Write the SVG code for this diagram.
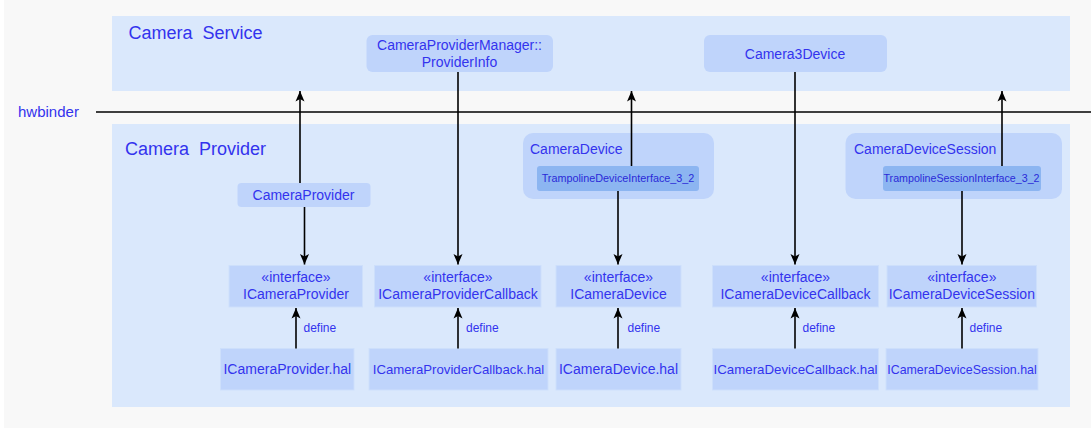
<svg xmlns="http://www.w3.org/2000/svg" width="1091" height="428" viewBox="0 0 1091 428">
<style>
text{font-family:"Liberation Sans",Arial,sans-serif;fill:#3333ee}
.t14{font-size:14px;text-anchor:middle}
.big{font-size:18px;white-space:pre}
.lane{fill:#dae8fc}
.node{fill:#bfd4fb}
.box{fill:#bfd4fb;stroke:#cddffb;stroke-width:1}
.tramp{fill:#8cb5f1}
.tt{font-size:10.8px;text-anchor:middle;fill:#2a2ad8}
.def{font-size:12px}
.c{stroke:#000;stroke-width:1.6;fill:none}
</style>
<defs>
<marker id="ah" markerUnits="userSpaceOnUse" markerWidth="12" markerHeight="12" viewBox="0 0 12 12" refX="11" refY="6" orient="auto">
<path d="M0.5,1.5 L11,6 L0.5,10.5 L3,6 z" fill="#000"/>
</marker>
</defs>
<rect x="0" y="0" width="1091" height="428" fill="#f8f8f8"/>
<rect x="0" y="0" width="4" height="428" fill="#ffffff"/>

<g id="camera-service">
<rect class="lane" x="112" y="16" width="958" height="75"/>
<text class="big" x="128.5" y="39" xml:space="preserve">Camera  Service</text>
</g>
<g id="camera-provider-lane">
<rect class="lane" x="112" y="124" width="958" height="283"/>
<text class="big" x="125" y="155" xml:space="preserve">Camera  Provider</text>
</g>
<g id="hwbinder">
<text x="18" y="117" style="font-size:15px">hwbinder</text>
<line x1="96" y1="112" x2="1091" y2="112" stroke="#000" stroke-width="1.6"/>
</g>

<g id="provider-info">
<rect class="node" x="366.5" y="35" width="186.5" height="37" rx="6"/>
<text class="t14" x="459.5" y="50">CameraProviderManager::</text>
<text class="t14" x="459.5" y="66.5">ProviderInfo</text>
</g>
<g id="camera3device">
<rect class="node" x="704" y="35" width="183" height="37" rx="6"/>
<text class="t14" x="795" y="58.5">Camera3Device</text>
</g>
<g id="camera-provider">
<rect class="node" x="237.5" y="183" width="133" height="24" rx="4"/>
<text class="t14" x="303.5" y="200">CameraProvider</text>
</g>
<g id="camera-device">
<rect class="node" x="523" y="133" width="191" height="66" rx="10"/>
<text x="530" y="154" style="font-size:14px">CameraDevice</text>
<rect class="tramp" x="537" y="166" width="162" height="25" rx="3"/>
<text class="tt" x="618" y="182">TrampolineDeviceInterface_3_2</text>
</g>
<g id="camera-device-session">
<rect class="node" x="845.5" y="133" width="216.5" height="66" rx="10"/>
<text x="854" y="154" style="font-size:14px">CameraDeviceSession</text>
<rect class="tramp" x="883" y="166" width="158" height="25" rx="3"/>
<text class="tt" x="961.5" y="182" textLength="156" lengthAdjust="spacingAndGlyphs">TrampolineSessionInterface_3_2</text>
</g>

<g id="icameraprovider">
<rect class="box" x="229" y="265.5" width="133.5" height="41.5"/>
<text class="t14" x="296" y="281.5">«interface»</text>
<text class="t14" x="296" y="298.5">ICameraProvider</text>
</g>
<g id="icameraprovidercallback">
<rect class="box" x="374.5" y="265.5" width="166.5" height="41.5"/>
<text class="t14" x="458" y="281.5">«interface»</text>
<text class="t14" x="458" y="298.5">ICameraProviderCallback</text>
</g>
<g id="icameradevice">
<rect class="box" x="556" y="265.5" width="125" height="41.5"/>
<text class="t14" x="618.5" y="281.5">«interface»</text>
<text class="t14" x="618.5" y="298.5">ICameraDevice</text>
</g>
<g id="icameradevicecallback">
<rect class="box" x="712.5" y="265.5" width="166" height="41.5"/>
<text class="t14" x="795.5" y="281.5">«interface»</text>
<text class="t14" x="795.5" y="298.5">ICameraDeviceCallback</text>
</g>
<g id="icameradevicesession">
<rect class="box" x="887" y="265.5" width="149.5" height="41.5"/>
<text class="t14" x="961.8" y="281.5">«interface»</text>
<text class="t14" x="961.8" y="298.5">ICameraDeviceSession</text>
</g>

<g id="icameraprovider-hal">
<rect class="box" x="220.5" y="348.5" width="133.5" height="41.5"/>
<text class="t14" x="287.3" y="374">ICameraProvider.hal</text>
</g>
<g id="icameraprovidercallback-hal">
<rect class="box" x="369" y="348.5" width="179" height="41.5"/>
<text class="t14" x="458.5" y="374" style="font-size:13.2px">ICameraProviderCallback.hal</text>
</g>
<g id="icameradevice-hal">
<rect class="box" x="556" y="348.5" width="125" height="41.5"/>
<text class="t14" x="618.5" y="374">ICameraDevice.hal</text>
</g>
<g id="icameradevicecallback-hal">
<rect class="box" x="712.5" y="348.5" width="166" height="41.5"/>
<text class="t14" x="795.5" y="374" style="font-size:13.3px">ICameraDeviceCallback.hal</text>
</g>
<g id="icameradevicesession-hal">
<rect class="box" x="886" y="348.5" width="152" height="41.5"/>
<text class="t14" x="962" y="374" style="font-size:12.4px">ICameraDeviceSession.hal</text>
</g>

<g id="connectors">
<line class="c" x1="300" y1="183" x2="300" y2="91" marker-end="url(#ah)"/>
<line class="c" x1="631.5" y1="166" x2="631.5" y2="91" marker-end="url(#ah)"/>
<line class="c" x1="1002" y1="166" x2="1002" y2="91" marker-end="url(#ah)"/>
<line class="c" x1="304.5" y1="207" x2="304.5" y2="264.5" marker-end="url(#ah)"/>
<line class="c" x1="458" y1="72" x2="458" y2="264.5" marker-end="url(#ah)"/>
<line class="c" x1="618" y1="191" x2="618" y2="264.5" marker-end="url(#ah)"/>
<line class="c" x1="795" y1="72" x2="795" y2="264.5" marker-end="url(#ah)"/>
<line class="c" x1="962" y1="191" x2="962" y2="264.5" marker-end="url(#ah)"/>
<line class="c" x1="296" y1="348.5" x2="296" y2="308" marker-end="url(#ah)"/>
<line class="c" x1="458" y1="348.5" x2="458" y2="308" marker-end="url(#ah)"/>
<line class="c" x1="618" y1="348.5" x2="618" y2="308" marker-end="url(#ah)"/>
<line class="c" x1="795" y1="348.5" x2="795" y2="308" marker-end="url(#ah)"/>
<line class="c" x1="962" y1="348.5" x2="962" y2="308" marker-end="url(#ah)"/>
<text class="def" x="303.5" y="332">define</text>
<text class="def" x="466" y="332">define</text>
<text class="def" x="627.5" y="331.5">define</text>
<text class="def" x="802.5" y="332">define</text>
<text class="def" x="969.5" y="332">define</text>
</g>
</svg>
